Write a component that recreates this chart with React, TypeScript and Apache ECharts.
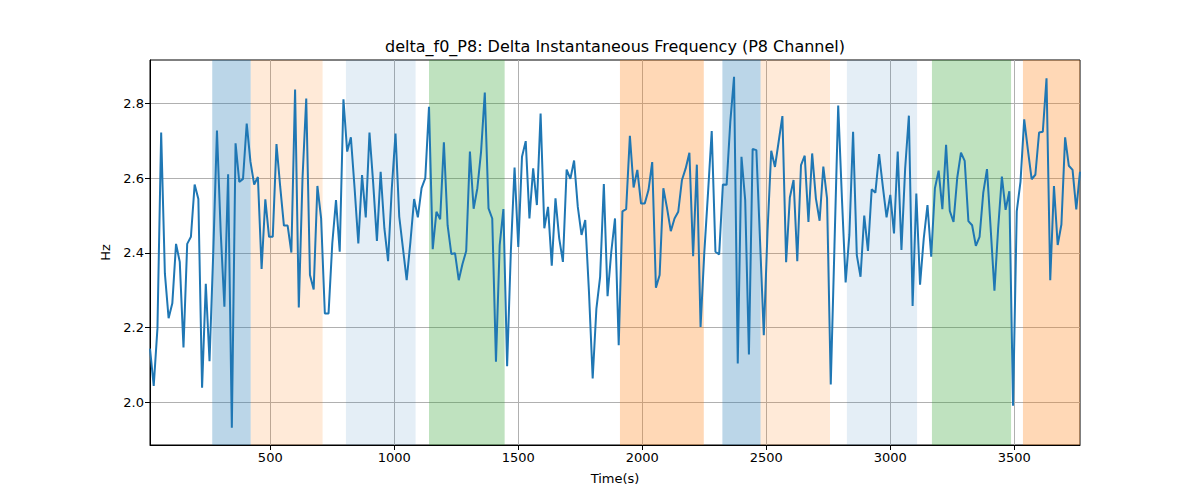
import React, { useEffect, useRef } from 'react';
import * as echarts from 'echarts';

// delta f0 samples, one every 15 s
const values = [
  2.144, 2.044, 2.198, 2.722, 2.345, 2.225, 2.265, 2.424, 2.376, 2.147,
  2.424, 2.443, 2.583, 2.544, 2.039, 2.317, 2.110, 2.400, 2.727, 2.457,
  2.256, 2.610, 1.932, 2.693, 2.590, 2.598, 2.746, 2.644, 2.583, 2.603,
  2.357, 2.543, 2.443, 2.443, 2.691, 2.577, 2.473, 2.473, 2.401, 2.837,
  2.254, 2.600, 2.813, 2.341, 2.302, 2.579, 2.492, 2.238, 2.238, 2.425,
  2.541, 2.403, 2.811, 2.671, 2.709, 2.573, 2.425, 2.608, 2.495, 2.722,
  2.586, 2.432, 2.617, 2.466, 2.378, 2.573, 2.719, 2.497, 2.412, 2.327,
  2.429, 2.544, 2.495, 2.573, 2.600, 2.791, 2.410, 2.510, 2.490, 2.696,
  2.474, 2.397, 2.399, 2.327, 2.370, 2.405, 2.671, 2.518, 2.573, 2.671,
  2.829, 2.519, 2.492, 2.109, 2.421, 2.517, 2.097, 2.403, 2.628, 2.416,
  2.657, 2.699, 2.492, 2.626, 2.528, 2.773, 2.466, 2.523, 2.366, 2.546,
  2.439, 2.376, 2.623, 2.598, 2.647, 2.523, 2.448, 2.488, 2.296, 2.064,
  2.251, 2.336, 2.584, 2.284, 2.403, 2.492, 2.153, 2.511, 2.517, 2.713,
  2.575, 2.622, 2.532, 2.532, 2.568, 2.643, 2.307, 2.341, 2.573, 2.519,
  2.458, 2.492, 2.510, 2.595, 2.626, 2.668, 2.391, 2.636, 2.202, 2.400,
  2.560, 2.726, 2.403, 2.396, 2.583, 2.582, 2.751, 2.871, 2.104, 2.657,
  2.541, 2.128, 2.678, 2.675, 2.430, 2.180, 2.457, 2.673, 2.630, 2.698,
  2.766, 2.375, 2.548, 2.595, 2.378, 2.635, 2.660, 2.483, 2.666, 2.546,
  2.486, 2.631, 2.546, 2.048, 2.420, 2.794, 2.546, 2.321, 2.448, 2.724,
  2.394, 2.336, 2.500, 2.405, 2.570, 2.561, 2.664, 2.577, 2.495, 2.555,
  2.452, 2.671, 2.408, 2.626, 2.767, 2.258, 2.559, 2.315, 2.439, 2.528,
  2.390, 2.573, 2.620, 2.517, 2.689, 2.512, 2.483, 2.601, 2.668, 2.646,
  2.485, 2.474, 2.419, 2.443, 2.561, 2.624, 2.463, 2.299, 2.466, 2.604,
  2.515, 2.565, 1.991, 2.512, 2.590, 2.757, 2.675, 2.597, 2.609, 2.722,
  2.724, 2.867, 2.327, 2.579, 2.421, 2.476, 2.709, 2.633, 2.622, 2.516,
  2.617,
];
const timeStart = 15;
const timeStep = 15;
const times = values.map((_, i) => timeStart + i * timeStep);

const xTicks = [500, 1000, 1500, 2000, 2500, 3000, 3500];
const yTicks = [2.0, 2.2, 2.4, 2.6, 2.8];

// shaded segments (s)
const bandStart = [266, 421, 805, 1140, 1910, 2323, 2477, 2825, 3168, 3535];
const bandEnd = [421, 711, 1086, 1445, 2248, 2477, 2757, 3108, 3487, 3765];
const bandKind = [0, 1, 2, 3, 4, 0, 1, 2, 3, 4];
const bandColors = [
  'rgba(31,119,180,0.3)',
  'rgba(255,127,14,0.16)',
  'rgba(31,119,180,0.12)',
  'rgba(44,160,44,0.3)',
  'rgba(255,127,14,0.3)',
];

const FONT = 'DejaVu Sans';

function App() {
  const chartRef = useRef(null);

  useEffect(() => {
    document.body.style.margin = '0';
    const chart = echarts.init(chartRef.current, null, { renderer: 'svg' });

    const options = {
      animation: false,
      grid: {
        left: 150,
        right: 120,
        top: 60,
        bottom: 55,
        show: true,
        borderColor: '#000',
        borderWidth: 1,
        backgroundColor: 'transparent',
      },
      graphic: [
        {
          type: 'text',
          x: 615,
          y: 46,
          style: {
            text: 'delta_f0_P8: Delta Instantaneous Frequency (P8 Channel)',
            textAlign: 'center',
            textVerticalAlign: 'middle',
            font: `16px "${FONT}"`,
            fill: '#000',
          },
        },
      ],
      xAxis: {
        type: 'value',
        min: times[0],
        max: times[times.length - 1],
        name: 'Time(s)',
        nameLocation: 'middle',
        nameGap: 27,
        nameTextStyle: { fontFamily: FONT, fontSize: 13, color: '#000' },
        axisLine: { show: true, onZero: false, lineStyle: { color: '#000', width: 1 } },
        axisTick: {
          show: true,
          length: 5,
          customValues: xTicks,
          lineStyle: { color: '#000', width: 1 },
        },
        axisLabel: {
          customValues: xTicks,
          formatter: (v: number) => String(v),
          fontFamily: FONT,
          fontSize: 13,
          color: '#000',
          margin: 6,
        },
        splitLine: { show: true, lineStyle: { color: '#b0b0b0', width: 1 } },
      },
      yAxis: {
        type: 'value',
        min: 1.886,
        max: 2.916,
        name: 'Hz',
        nameLocation: 'middle',
        nameGap: 38,
        nameTextStyle: { fontFamily: FONT, fontSize: 13, color: '#000' },
        axisLine: { show: true, onZero: false, lineStyle: { color: '#000', width: 1 } },
        axisTick: {
          show: true,
          length: 5,
          customValues: yTicks,
          lineStyle: { color: '#000', width: 1 },
        },
        axisLabel: {
          customValues: yTicks,
          formatter: (v: number) => v.toFixed(1),
          fontFamily: FONT,
          fontSize: 13,
          color: '#000',
          margin: 6,
        },
        splitLine: { show: true, lineStyle: { color: '#b0b0b0', width: 1 } },
      },
      series: [
        {
          type: 'line',
          data: times.map((t, i) => [t, values[i]]),
          showSymbol: false,
          symbol: 'none',
          lineStyle: { color: '#1f77b4', width: 2 },
          itemStyle: { color: '#1f77b4' },
          z: 3,
          markArea: {
            silent: true,
            data: bandStart.map((s, i) => [
              { xAxis: s, itemStyle: { color: bandColors[bandKind[i]] } },
              { xAxis: bandEnd[i] },
            ]),
          },
        },
      ],
    };

    chart.setOption(options);

    return () => {
      chart.dispose();
    };
  }, []);

  return <div ref={chartRef} style={{ width: '1200px', height: '500px' }}></div>;
}

export default App;
